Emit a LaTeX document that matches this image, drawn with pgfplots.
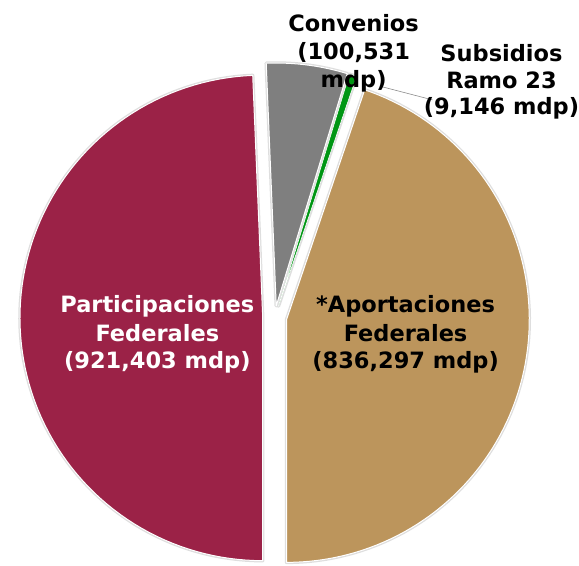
\documentclass[border=0pt]{standalone}
\usepackage{pgfplots}
\pgfplotsset{compat=1.18}
\usepackage{fontspec}
\setmainfont{DejaVu Sans}
\definecolor{guinda}{RGB}{155,34,71}
\definecolor{dorado}{RGB}{188,149,92}
\definecolor{gris}{RGB}{127,127,127}
\definecolor{verde}{RGB}{0,150,20}
\tikzset{
  shadow/.style={draw=black!13, fill=black!13, line width=3.5pt, line join=round},
  slice/.style={draw=white, line width=1pt, line join=round},
  lbl/.style={anchor=base, inner sep=0pt, font=\fontsize{22.5}{27}\selectfont\bfseries},
}
\begin{document}
\begin{tikzpicture}
% values in thousands of mdp
\def\vP{921.403}\def\vA{836.297}\def\vC{100.531}\def\vS{9.146}
\pgfmathsetmacro{\T}{\vP+\vA+\vC+\vS}
\pgfmathsetmacro{\aA}{-90}
\pgfmathsetmacro{\bA}{\aA+\vA/\T*360}
\pgfmathsetmacro{\bS}{\bA+\vS/\T*360}
\pgfmathsetmacro{\bC}{\bS+\vC/\T*360}
\pgfmathsetmacro{\bP}{\bC+\vP/\T*360}
\def\R{243}\def\cx{275}\def\cy{248}\def\ex{12}
\pgfmathsetmacro{\oxA}{\cx+\ex*cos((\aA+\bA)/2)}\pgfmathsetmacro{\oyA}{\cy+\ex*sin((\aA+\bA)/2)}
\pgfmathsetmacro{\oxS}{\cx+\ex*cos((\bA+\bS)/2)}\pgfmathsetmacro{\oyS}{\cy+\ex*sin((\bA+\bS)/2)}
\pgfmathsetmacro{\oxC}{\cx+\ex*cos((\bS+\bC)/2)}\pgfmathsetmacro{\oyC}{\cy+\ex*sin((\bS+\bC)/2)}
\pgfmathsetmacro{\oxP}{\cx+\ex*cos((\bC+\bP)/2)}\pgfmathsetmacro{\oyP}{\cy+\ex*sin((\bC+\bP)/2)}
\begin{axis}[
  x=1pt, y=1pt, xmin=0, xmax=579, ymin=0, ymax=566,
  hide axis, clip=false, samples=90,
]
\path (axis cs:0,0) rectangle (axis cs:579,566);
% shadows
\addplot[shadow, domain=\aA:\bA] ({\oxA+\R*cos(x)},{\oyA+\R*sin(x)}) -- (axis cs:\oxA,\oyA) -- cycle;
\addplot[shadow, domain=\bA:\bS] ({\oxS+\R*cos(x)},{\oyS+\R*sin(x)}) -- (axis cs:\oxS,\oyS) -- cycle;
\addplot[shadow, domain=\bS:\bC] ({\oxC+\R*cos(x)},{\oyC+\R*sin(x)}) -- (axis cs:\oxC,\oyC) -- cycle;
\addplot[shadow, domain=\bC:\bP] ({\oxP+\R*cos(x)},{\oyP+\R*sin(x)}) -- (axis cs:\oxP,\oyP) -- cycle;
% slices
\addplot[slice, fill=dorado, domain=\aA:\bA] ({\oxA+\R*cos(x)},{\oyA+\R*sin(x)}) -- (axis cs:\oxA,\oyA) -- cycle;
\addplot[slice, fill=verde, line width=0.6pt, domain=\bA:\bS] ({\oxS+\R*cos(x)},{\oyS+\R*sin(x)}) -- (axis cs:\oxS,\oyS) -- cycle;
\addplot[slice, fill=gris, domain=\bS:\bC] ({\oxC+\R*cos(x)},{\oyC+\R*sin(x)}) -- (axis cs:\oxC,\oyC) -- cycle;
\addplot[slice, fill=guinda, domain=\bC:\bP] ({\oxP+\R*cos(x)},{\oyP+\R*sin(x)}) -- (axis cs:\oxP,\oyP) -- cycle;
% leader line
\draw[black!45, line width=0.6pt] (axis cs:383,479) -- (axis cs:433,466);
% labels
\node[lbl, text=white] at (axis cs:157.5,253) {Participaciones};
\node[lbl, text=white] at (axis cs:157.5,224) {Federales};
\node[lbl, text=white] at (axis cs:157.5,197) {(921,403 mdp)};
\node[lbl] at (axis cs:406,253) {*Aportaciones};
\node[lbl] at (axis cs:406,224) {Federales};
\node[lbl] at (axis cs:406,197) {(836,297 mdp)};
\node[lbl] at (axis cs:354,534) {Convenios};
\node[lbl] at (axis cs:354,506) {(100,531};
\node[lbl] at (axis cs:354,478) {mdp)};
\node[lbl] at (axis cs:502,504) {Subsidios};
\node[lbl] at (axis cs:502,477) {Ramo 23};
\node[lbl] at (axis cs:502,451) {(9,146 mdp)};
\end{axis}
\end{tikzpicture}
\end{document}
